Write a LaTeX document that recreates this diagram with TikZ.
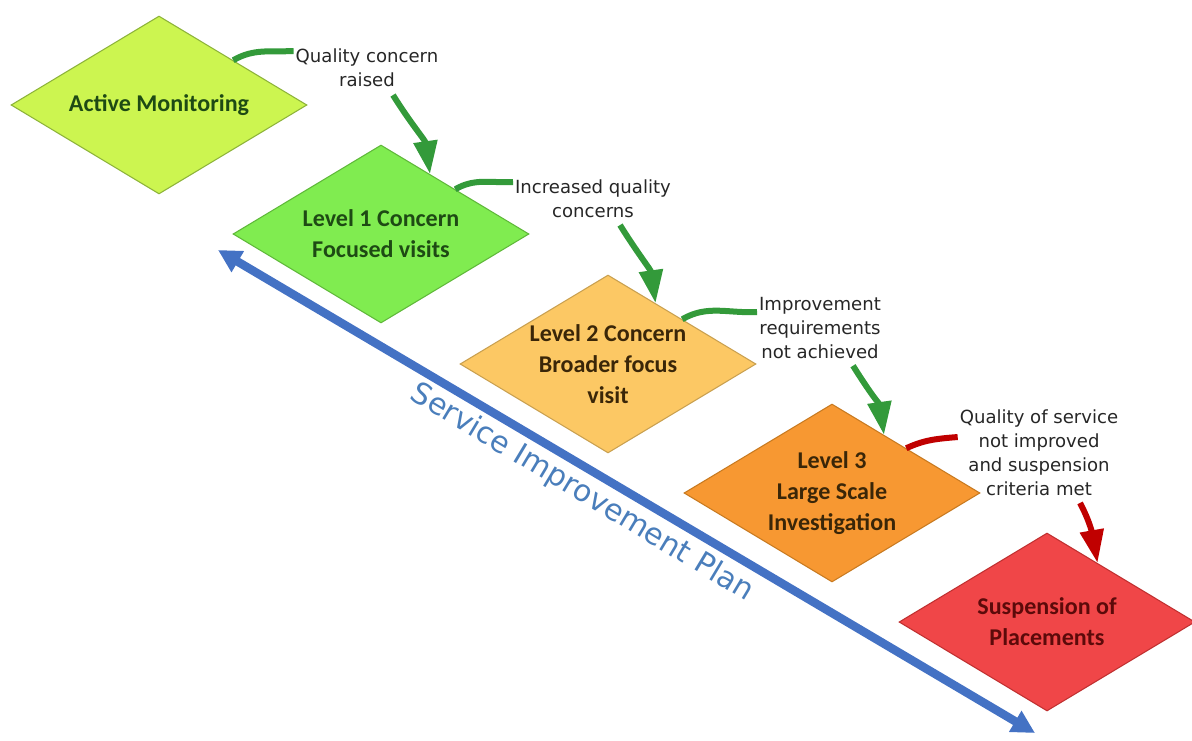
\documentclass[tikz,border=0pt]{standalone}
\usepackage{xcolor}
\usepackage{fontspec}
\setmainfont{Carlito}
\newfontfamily\notefont{DejaVu Sans}
\usetikzlibrary{shapes.geometric,arrows.meta,calc}

\definecolor{monfill}{HTML}{CCF550}
\definecolor{monline}{HTML}{8DB33A}
\definecolor{lvlonefill}{HTML}{80EC50}
\definecolor{lvloneline}{HTML}{5FB83A}
\definecolor{lvltwofill}{HTML}{FCC864}
\definecolor{lvltwoline}{HTML}{C9A050}
\definecolor{lvlthreefill}{HTML}{F79832}
\definecolor{lvlthreeline}{HTML}{C87A20}
\definecolor{suspfill}{HTML}{F04648}
\definecolor{suspline}{HTML}{C03030}
\definecolor{greentext}{HTML}{1E4A14}
\definecolor{browntext}{HTML}{3A2608}
\definecolor{redtext}{HTML}{5C0A0A}
\definecolor{notegray}{HTML}{262626}
\definecolor{flowgreen}{HTML}{339A3A}
\definecolor{flowred}{HTML}{C00000}
\definecolor{planblue}{HTML}{4472C4}
\definecolor{plantext}{HTML}{4A7EBB}

\begin{document}
\begin{tikzpicture}[x=0.02cm,y=-0.02cm,
    stage/.style={draw,diamond,shape aspect=1.65,minimum width=5.92cm,minimum height=3.56cm,
        inner sep=0pt,line width=0.6pt,align=center,font=\bfseries\fontsize{13.7}{17.6}\selectfont},
    note/.style={align=center,inner sep=1pt,text=notegray,font=\notefont\fontsize{10.3}{13.6}\selectfont},
    flow/.style={line width=0.12cm,draw=flowgreen},
    headed/.style={-{Triangle[length=0.66cm,width=0.46cm]}},
    plan/.style={line width=0.17cm,draw=planblue,{Triangle[length=0.46cm,width=0.46cm]}-{Triangle[length=0.46cm,width=0.46cm]}}
  ]
    \useasboundingbox (0,0) rectangle (1192,740);

    % stages
    \node[stage,fill=monfill,draw=monline,text=greentext] (am) at (159,105) {Active Monitoring};
    \node[stage,fill=lvlonefill,draw=lvloneline,text=greentext] (l1) at (381,234) {Level 1 Concern\\Focused visits};
    \node[stage,fill=lvltwofill,draw=lvltwoline,text=browntext] (l2) at (608,364) {Level 2 Concern\\Broader focus\\visit};
    \node[stage,fill=lvlthreefill,draw=lvlthreeline,text=browntext] (l3) at (832,493) {Level 3\\Large Scale\\Investigation};
    \node[stage,fill=suspfill,draw=suspline,text=redtext] (sp) at (1047,622) {Suspension of\\Placements};

    % triggers
    \node[note] (q1) at (367,68) {Quality concern\\raised};
    \node[note] (q2) at (593,199) {Increased quality\\concerns};
    \node[note] (q3) at (820,328) {Improvement\\requirements\\not achieved};
    \node[note] (q4) at (1039,453) {Quality of service\\not improved\\and suspension\\criteria met};

    \draw[flow] (am.north east) to[out=30,in=183] ($(q1.west)+(0,-17)$);
    \draw[flow,headed] ($(q1.south)+(26,6)$) to[out=-58,in=98] ($(l1.north)!0.33!(l1.east)$);
    \draw[flow] (l1.north east) to[out=30,in=183] ($(q2.west)+(0,-17)$);
    \draw[flow,headed] ($(q2.south)+(27,5)$) to[out=-58,in=98] ($(l2.north)!0.32!(l2.east)$);
    \draw[flow] (l2.north east) to[out=30,in=183] ($(q3.west)+(0,-16)$);
    \draw[flow,headed] ($(q3.south)+(33,5)$) to[out=-58,in=98] ($(l3.north)!0.35!(l3.east)$);
    \draw[flow,draw=flowred] (l3.north east) to[out=25,in=185] ($(q4.west)+(0,-16)$);
    \draw[flow,draw=flowred,headed] ($(q4.south)+(41,5)$) to[out=-62,in=100] ($(sp.north)!0.34!(sp.east)$);

    % improvement plan
    \coordinate (sipL) at (218,250);
    \coordinate (sipR) at (1035,733);
    \draw[plan] (sipL) -- (sipR);
    \node[text=plantext,font=\notefont\fontsize{17}{20}\selectfont,rotate=-31] (sip) at (582,493) {Service Improvement Plan};
\end{tikzpicture}
\end{document}
